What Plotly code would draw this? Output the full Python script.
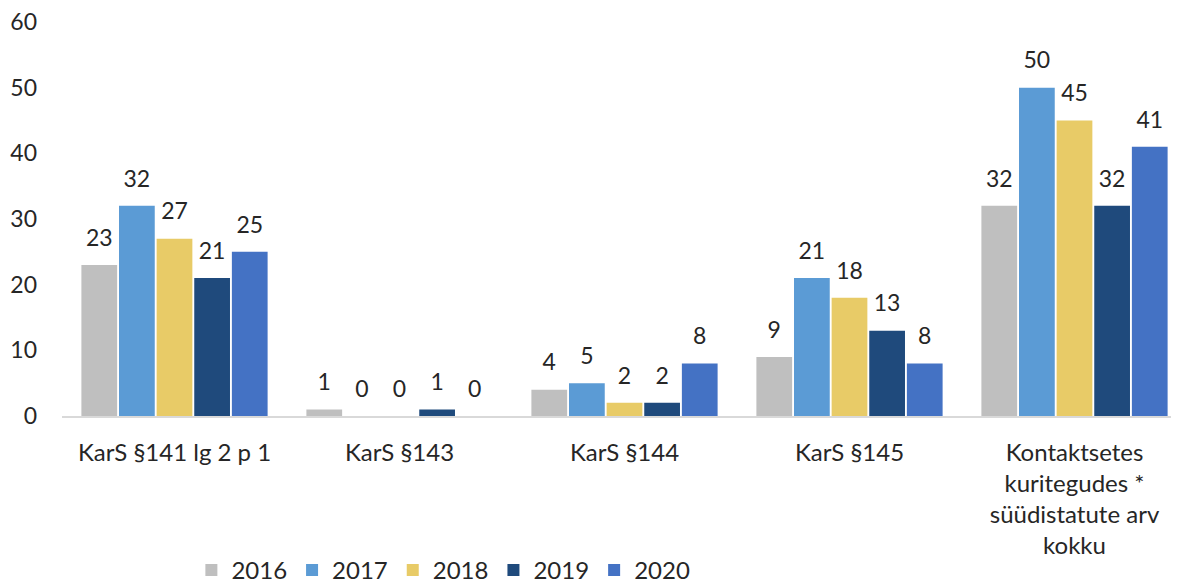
import plotly.graph_objects as go

categories = [
    "KarS §141 lg 2 p 1",
    "KarS §143",
    "KarS §144",
    "KarS §145",
    "Kontaktsetes<br>kuritegudes *<br>süüdistatute arv<br>kokku",
]
years = ["2016", "2017", "2018", "2019", "2020"]
values = {
    "2016": [23, 1, 4, 9, 32],
    "2017": [32, 0, 5, 21, 50],
    "2018": [27, 0, 2, 18, 45],
    "2019": [21, 1, 2, 13, 32],
    "2020": [25, 0, 8, 8, 41],
}
colors = {
    "2016": "#BFBFBF",
    "2017": "#5B9BD5",
    "2018": "#E8CB67",
    "2019": "#1F4A7C",
    "2020": "#4472C4",
}

font_family = "Lato, 'Open Sans', sans-serif"
fsize = 23

fig = go.Figure()
for yr in years:
    fig.add_trace(go.Bar(
        x=categories,
        y=values[yr],
        name=yr,
        offsetgroup=yr,
        marker=dict(color=colors[yr], line=dict(width=0)),
    ))

# value labels, floated a bit higher above the bars than bar text allows
for yr in years:
    fig.add_trace(go.Scatter(
        x=categories,
        y=values[yr],
        offsetgroup=yr,
        mode="markers+text",
        marker=dict(size=20, opacity=0),
        text=values[yr],
        textposition="top center",
        textfont=dict(size=fsize, color="#262626", family=font_family),
        cliponaxis=False,
        showlegend=False,
        hoverinfo="skip",
    ))

fig.update_layout(
    barmode="group",
    scattermode="group",
    bargap=0.164,
    bargroupgap=0.05,
    width=1179,
    height=583,
    margin=dict(l=54, r=0, t=14, b=175, autoexpand=False),
    plot_bgcolor="white",
    paper_bgcolor="white",
    font=dict(family=font_family, size=fsize, color="#262626"),
    legend=dict(
        orientation="h",
        x=0.339, xanchor="center",
        y=-0.392, yanchor="middle",
        font=dict(size=fsize + 1),
        itemwidth=30,
        traceorder="normal",
    ),
    xaxis=dict(
        showline=True, linecolor="#D9D9D9", linewidth=1.5,
        ticks="outside", ticklen=14, tickcolor="rgba(0,0,0,0)",
        tickfont=dict(size=fsize + 1),
    ),
    yaxis=dict(
        range=[0, 60], dtick=10, showgrid=False, zeroline=False,
        showline=False, ticks="", tickfont=dict(size=fsize),
        ticklabelstandoff=24, ticklabeloverflow="allow",
    ),
)

fig.write_html("out.html")
